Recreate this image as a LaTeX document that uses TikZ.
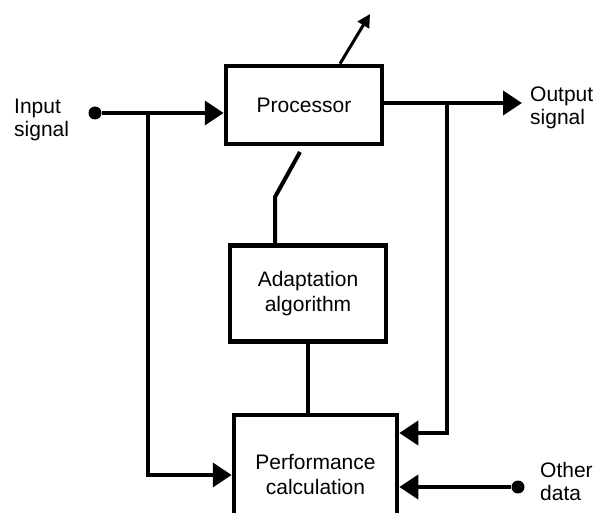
\documentclass[tikz,border=0pt]{standalone}
\usepackage{fontspec}
\setmainfont{Liberation Sans}
\usetikzlibrary{arrows.meta,positioning}

\begin{document}
\begin{tikzpicture}[
  x=1pt, y=-1pt,
  box/.style={draw,line width=4.5pt,inner sep=0pt,align=center,font=\fontsize{21}{25}\selectfont},
  sigtext/.style={inner sep=0pt,align=left,anchor=north west,font=\fontsize{21}{23}\selectfont},
  wire/.style={line width=4pt},
  arrow/.style={wire,-{Triangle[length=19pt,width=24pt]}},
  dot/.style={circle,fill,inner sep=0pt,minimum size=13pt}
]
  \useasboundingbox (0,0) rectangle (595,513);

  \node[box,minimum width=156pt,minimum height=78pt] (proc) at (304,105) {Processor};
  \node[box,minimum width=156pt,minimum height=96pt,below=97pt of proc,xshift=4pt] (adapt) {Adaptation\\algorithm};
  \node[box,minimum width=163pt,minimum height=120pt,below=69pt of adapt,xshift=7.5pt] (perf) {Performance\\calculation};

  \node[sigtext] (inlabel) at (14,99) {Input\\signal};
  \node[sigtext] (outlabel) at (530,87) {Output\\signal};
  \node[sigtext] (othlabel) at (540,462) {Other\\data};

  \node[dot] (in) at (95,113) {};
  \node[dot] (oth) at (518,487) {};
  \coordinate (tapIn) at (148,113);
  \coordinate (out) at (522,103);
  \coordinate (tapOut) at (447,103);
  \coordinate (fbk) at (447,433);
  \coordinate (tip) at (370,14);
  \coordinate (swTop) at (300,152);
  \coordinate (swBot) at (275,197);

  % signal path
  \draw[arrow] (in) -- (in -| proc.west);
  \draw[arrow] (out -| proc.east) -- (out);
  \draw[wire,line width=3pt,-{Triangle[length=13pt,width=13pt]}] ([xshift=36pt]proc.north) -- (tip);

  % adaptation loop
  \draw[wire] (swTop) -- (swBot) -- (swBot |- adapt.north);
  \draw[wire] (adapt.south) -- (adapt.south |- perf.north);
  \draw[arrow] (tapIn) |- (perf.west);
  \draw[arrow] (tapOut) -- (fbk) -- (fbk -| perf.east);
  \draw[arrow] (oth) -- (oth -| perf.east);
\end{tikzpicture}
\end{document}
